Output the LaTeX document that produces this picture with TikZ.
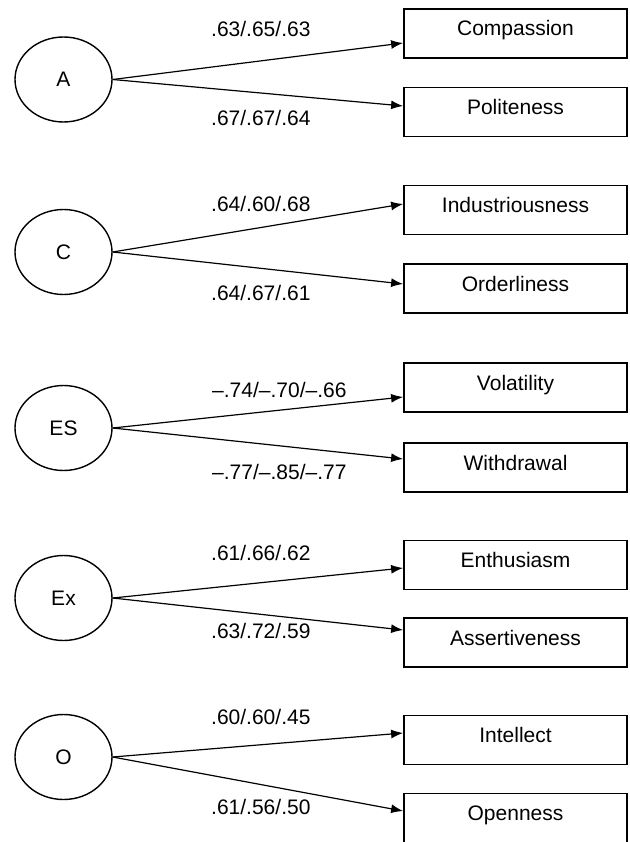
\documentclass[tikz,border=0pt]{standalone}
\usepackage{fontspec}
\setmainfont{Liberation Sans}
\usetikzlibrary{arrows.meta,shapes.geometric}
\begin{document}
\begin{tikzpicture}[x=1pt,y=-1pt,
  font=\fontsize{21}{25}\selectfont,
  latent/.style={draw, ellipse, minimum width=97pt, minimum height=85pt, inner sep=0pt, line width=1.4pt},
  obs/.style={draw, rectangle, minimum width=223pt, minimum height=49pt, inner sep=0pt, line width=1.8pt, text height=15pt, text depth=10pt},
  lbl/.style={anchor=west, inner sep=0pt, text height=15pt, text depth=0pt},
  arr/.style={-{Latex[length=12pt,width=9pt]}, line width=1.2pt}]
\useasboundingbox (0,0) rectangle (629,842);
\clip (0,0) rectangle (629,842);

% Group A
\node[latent] (A) at (63.5,79.5) {A};
\node[obs] (comp) at (515.5,33.5) {Compassion};
\node[obs] (pol) at (515.5,112) {Politeness};
\draw[arr] (A.east) -- ([yshift=-9.5pt]comp.west);
\draw[arr] (A.east) -- ([yshift=6pt]pol.west);
\node[lbl] (lA1) at (211,29) {.63/.65/.63};
\node[lbl] (lA2) at (211,118) {.67/.67/.64};

% Group C
\node[latent] (C) at (63.5,252) {C};
\node[obs] (ind) at (515.5,210) {Industriousness};
\node[obs] (ord) at (515.5,288.5) {Orderliness};
\draw[arr] (C.east) -- ([yshift=6pt]ind.west);
\draw[arr] (C.east) -- ([yshift=4.5pt]ord.west);
\node[lbl] (lC1) at (211,204) {.64/.60/.68};
\node[lbl] (lC2) at (211,293) {.64/.67/.61};

% Group ES
\node[latent] (ES) at (63.5,428) {ES};
\node[obs] (vol) at (515.5,387.5) {Volatility};
\node[obs] (wit) at (515.5,467.5) {Withdrawal};
\draw[arr] (ES.east) -- ([yshift=-9.5pt]vol.west);
\draw[arr] (ES.east) -- ([yshift=8.5pt]wit.west);
\node[lbl] (lE1) at (212,390) {–.74/–.70/–.66};
\node[lbl] (lE2) at (212,472) {–.77/–.85/–.77};

% Group Ex
\node[latent] (Ex) at (63.5,598) {Ex};
\node[obs] (ent) at (515.5,565) {Enthusiasm};
\node[obs] (ass) at (515.5,642.5) {Assertiveness};
\draw[arr] (Ex.east) -- ([yshift=-3pt]ent.west);
\draw[arr] (Ex.east) -- ([yshift=12.5pt]ass.west);
\node[lbl] (lX1) at (211,553) {.61/.66/.62};
\node[lbl] (lX2) at (211,631) {.63/.72/.59};

% Group O
\node[latent] (O) at (63.5,757) {O};
\node[obs] (int) at (515.5,740) {Intellect};
\node[obs] (ope) at (515.5,818) {Openness};
\draw[arr] (O.east) -- ([yshift=7pt]int.west);
\draw[arr] (O.east) -- ([yshift=7pt]ope.west);
\node[lbl] (lO1) at (211,717) {.60/.60/.45};
\node[lbl] (lO2) at (211,807) {.61/.56/.50};
\end{tikzpicture}
\end{document}
